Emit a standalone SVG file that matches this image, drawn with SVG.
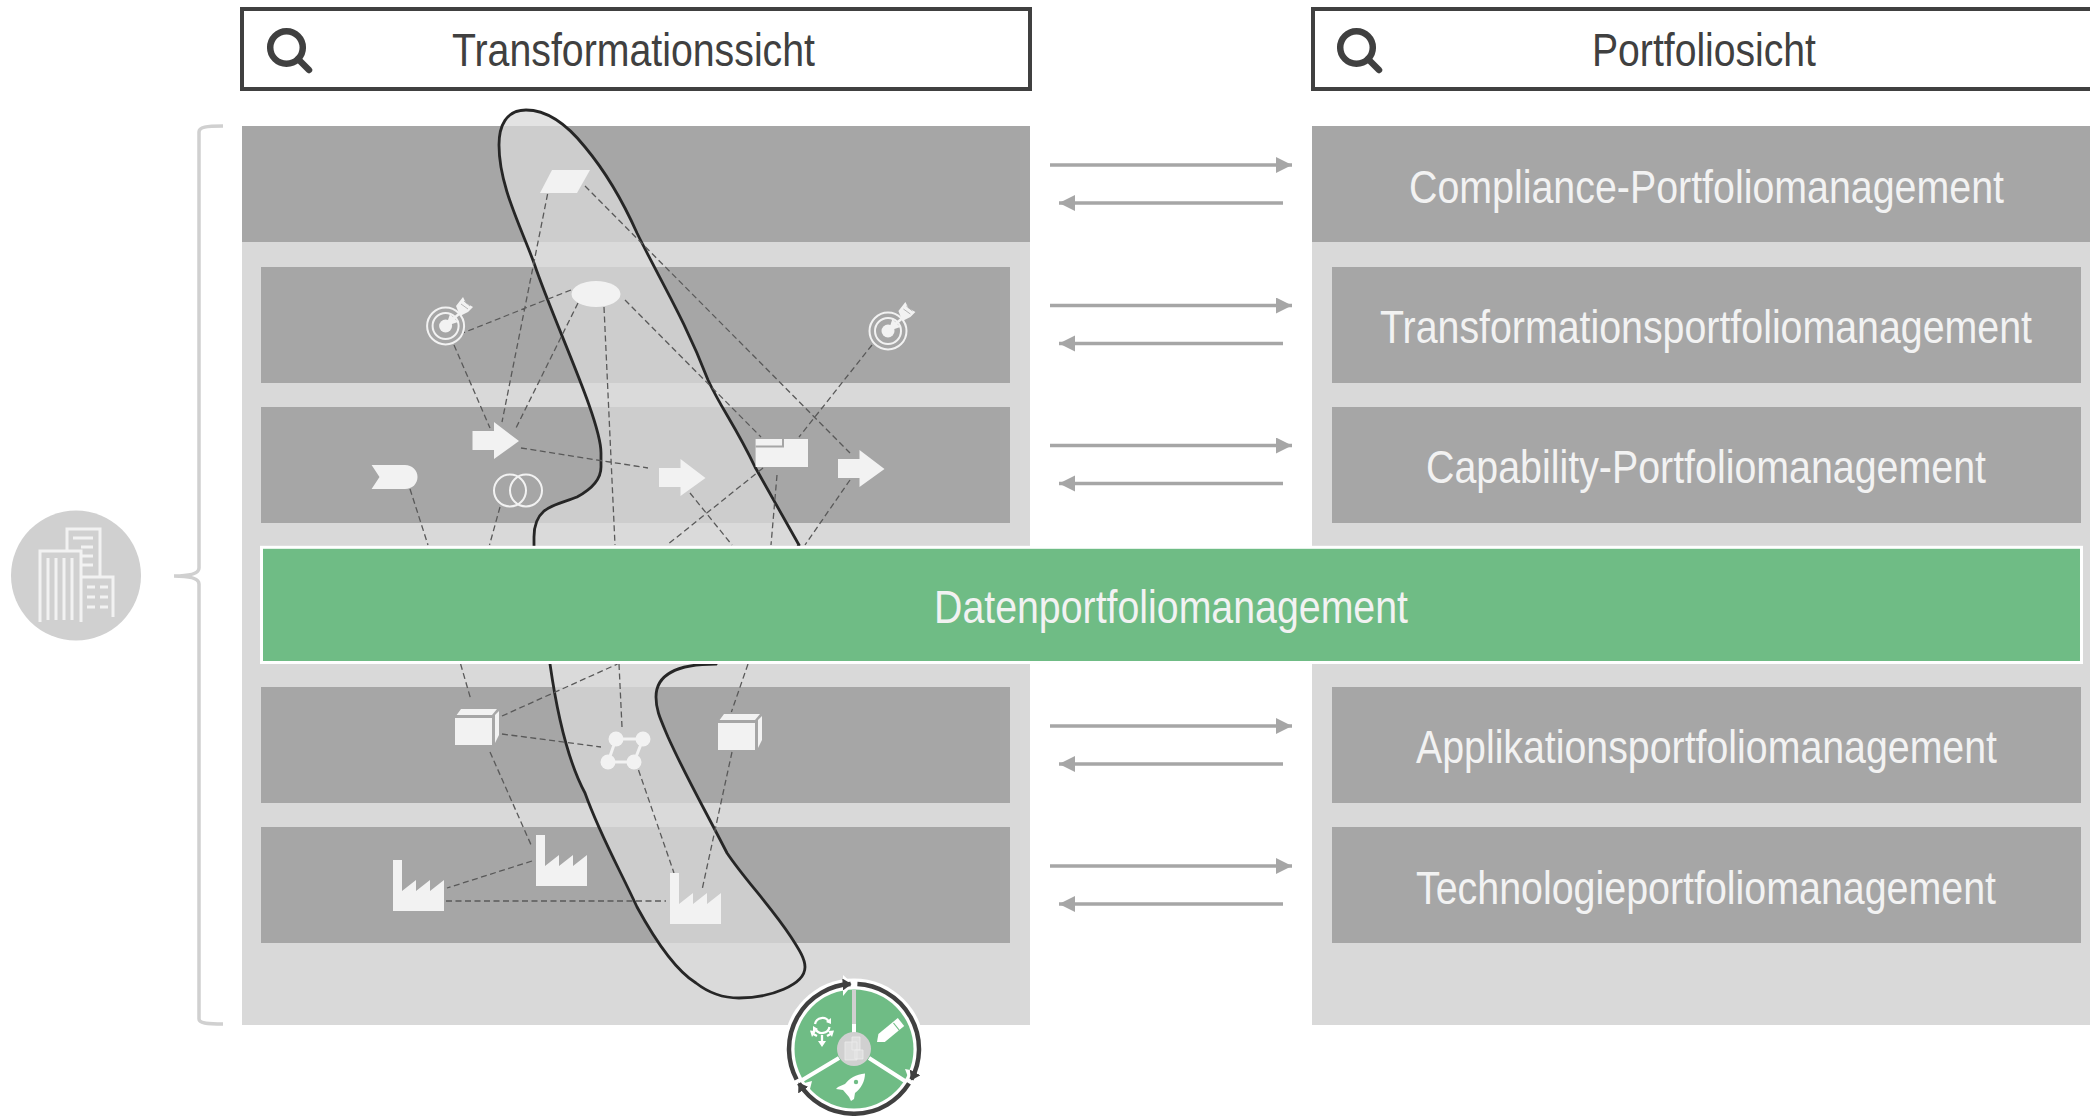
<svg xmlns="http://www.w3.org/2000/svg" xmlns:xlink="http://www.w3.org/1999/xlink" width="2090" height="1116" viewBox="0 0 2090 1116">
<style>
text{font-family:"Liberation Sans",Arial,sans-serif;font-size:47px;text-anchor:start;fill:#f2f2f2}
text.head{fill:#404040}
.panel{fill:#d9d9d9}
.band{fill:#a6a6a6}
.hbox{fill:#fff;stroke:#404040;stroke-width:4}
.ic{fill:#f2f2f2}
.dash{fill:none;stroke:#595959;stroke-width:1.3;stroke-dasharray:6 3.5}
.flow{fill:none;stroke:#a6a6a6;stroke-width:3.5}
.tgt{fill:none;stroke:#f2f2f2;stroke-width:2}
.bld{fill:none;stroke:#f2f2f2;stroke-width:3}
.arc{fill:none;stroke:#404040;stroke-width:4.5;marker-end:url(#dh)}
.wi{fill:#fff}
</style>
<defs>
<marker id="fh" markerUnits="userSpaceOnUse" markerWidth="17" markerHeight="17" refX="16" refY="8" orient="auto"><path d="M0 0L16 8L0 16Z" fill="#a6a6a6"/></marker>
<marker id="dh" markerUnits="userSpaceOnUse" markerWidth="12" markerHeight="12" refX="8" refY="6" orient="auto"><path d="M0 0L9 6L0 12Z" fill="#404040"/></marker>
<g id="search"><circle cx="286.500" cy="47.500" r="16.300" fill="none" stroke="#404040" stroke-width="6.500"/><path d="M298 59L309 70" stroke="#404040" stroke-width="6.500" stroke-linecap="round"/></g>
<g id="factory"><path class="ic" d="M393 860H402V891L416 880V891L430 880V891L444 880V911H393Z"/></g>
<g id="target"><circle class="tgt" cx="445.600" cy="326" r="18.500"/><circle class="tgt" cx="445.600" cy="326" r="13"/><circle class="ic" cx="445.600" cy="326" r="6.500"/><path d="M446 325L466 308" stroke="#f2f2f2" stroke-width="2.500"/><path d="M446 326L450 314L458 322Z" class="ic"/><path class="ic" d="M456 306L463 297L466 303L473 307L468 312L460 316Z"/><path d="M461 304L468 309M464 301L470 306" stroke="#a6a6a6" stroke-width=".8"/></g>
<g id="cube"><path class="ic" d="M455 718H492V745H455ZM456.600 715L461 709H497L492 715ZM495 715L499 711V735L495 743Z"/></g>
<g id="arrowI"><path class="ic" d="M472.500 431H494V422L519 441L494 459V450H472.500Z"/></g>
<g id="bldIcon"><path class="bld" d="M67 551V529H100V577M40 622V551H81V622M81 577H113V617M73 538H93M81 547H93M81 556H93M81 565H93M48 558V620M56 558V620M64 558V620M72 558V620M87 587H95M100 587H108M87 597H95M100 597H108M87 607H95M100 607H108"/></g>
</defs>

<g id="panel-transformation"><rect class="panel" x="242" y="126" width="788" height="899"/><rect class="band" x="242" y="126" width="788" height="116"/><rect class="band" x="261" y="267" width="749" height="116"/><rect class="band" x="261" y="407" width="749" height="116"/><rect class="band" x="261" y="687" width="749" height="116"/><rect class="band" x="261" y="827" width="749" height="116"/></g>

<g id="panel-portfolio"><rect class="panel" x="1312" y="126" width="778" height="899"/></g>

<g id="header-transformation"><rect class="hbox" x="242" y="9" width="788" height="80"/><use href="#search"/><text class="head" x="452" y="66" textLength="363" lengthAdjust="spacingAndGlyphs">Transformationssicht</text></g>
<g id="header-portfolio"><rect class="hbox" x="1313" y="9" width="800" height="80"/><use href="#search" x="1070"/><text class="head" x="1592" y="66" textLength="224" lengthAdjust="spacingAndGlyphs">Portfoliosicht</text></g>

<g id="node-compliance"><rect class="band" x="1312" y="126" width="778" height="116"/><text x="1409" y="203" textLength="595" lengthAdjust="spacingAndGlyphs">Compliance-Portfoliomanagement</text></g>
<g id="node-transformation"><rect class="band" x="1332" y="267" width="749" height="116"/><text x="1380" y="343" textLength="652" lengthAdjust="spacingAndGlyphs">Transformationsportfoliomanagement</text></g>
<g id="node-capability"><rect class="band" x="1332" y="407" width="749" height="116"/><text x="1426" y="483" textLength="560" lengthAdjust="spacingAndGlyphs">Capability-Portfoliomanagement</text></g>
<g id="node-application"><rect class="band" x="1332" y="687" width="749" height="116"/><text x="1416" y="763" textLength="581" lengthAdjust="spacingAndGlyphs">Applikationsportfoliomanagement</text></g>
<g id="node-technology"><rect class="band" x="1332" y="827" width="749" height="116"/><text x="1416" y="904" textLength="580" lengthAdjust="spacingAndGlyphs">Technologieportfoliomanagement</text></g>

<path id="scope" d="M526 110C506 110 499 126 499 145C499 185 520 225 534 263C555 325 601 420 601 453V467C601 480 590 490 577 497C558 505 534 505 534 537V600L550 664C558 720 570 765 585 793C600 835 620 870 637 907C655 940 675 970 696 983C710 994 725 998 739 998C770 998 805 985 805 967C805 958 798 948 791 937C770 905 745 880 727 853C705 810 685 775 668 737C660 718 656 710 656 697C656 680 668 664 716 664L799 545L755 467C735 425 722 410 708 380C685 320 660 280 637 233C620 195 600 165 585 147C565 122 545 110 526 110Z" fill="#d9d9d9" fill-opacity=".75" stroke="#262626" stroke-width="2.800"/>

<g id="connectors">
<path class="dash" d="M547.600 194L502 422M585 186L850 453M571 290L462.600 333M578 303L516 428M604 307L615 545M625 300L761 437M454 345L490 428M872 345L799 437M521 448L648 468M410 489L428 545M500 507L489.500 545M690 493L732 545M763 468L667 545M777 475L771 545M850 480L805 545M460.600 664L471 700M502 716L617.600 664M619 664L622 727M748 664L731.400 712M502 734L601 747M490 752L532 847M638.500 770L674 873M732 752L702 890M532 861L447 888M446 901L666 901"/>
<path class="flow" marker-end="url(#fh)" d="M1050 165H1292"/><path class="flow" marker-end="url(#fh)" d="M1283 203H1059"/>
<path class="flow" marker-end="url(#fh)" d="M1050 305.500H1292"/><path class="flow" marker-end="url(#fh)" d="M1283 343.500H1059"/>
<path class="flow" marker-end="url(#fh)" d="M1050 445.500H1292"/><path class="flow" marker-end="url(#fh)" d="M1283 483.500H1059"/>
<path class="flow" marker-end="url(#fh)" d="M1050 726H1292"/><path class="flow" marker-end="url(#fh)" d="M1283 764H1059"/>
<path class="flow" marker-end="url(#fh)" d="M1050 866H1292"/><path class="flow" marker-end="url(#fh)" d="M1283 904H1059"/>
</g>

<g id="icon-parallelogram"><path class="ic" d="M540 193L552 170H590L577 193Z"/></g>
<g id="icon-ellipse"><ellipse class="ic" cx="596" cy="294" rx="24.500" ry="13"/></g>
<g id="icon-target-1"><use href="#target"/></g>
<g id="icon-target-2"><use href="#target" x="442.400" y="5"/></g>
<g id="icon-arrow-1"><use href="#arrowI"/></g>
<g id="icon-arrow-2"><use href="#arrowI" x="186.500" y="37"/></g>
<g id="icon-arrow-3"><use href="#arrowI" x="365.500" y="28"/></g>
<g id="icon-folder"><path class="ic" d="M755.600 439H808V467H755.600Z"/><path d="M755.600 446.500H783V439" fill="none" stroke="#a6a6a6" stroke-width="2"/></g>
<g id="icon-chevron"><path class="ic" d="M371.600 465H405C412 465 417.500 470 417.500 477C417.500 484 412 489 405 489H371.600L379.500 477Z"/></g>
<g id="icon-rings"><circle class="tgt" stroke-width="2.500" cx="510" cy="490.500" r="16"/><circle class="tgt" stroke-width="2.500" cx="526" cy="490.500" r="16"/></g>
<g id="icon-cube-1"><use href="#cube"/></g>
<g id="icon-cube-2"><use href="#cube" x="263" y="5"/></g>
<g id="icon-network"><path d="M616 739H643L634 762H608Z" fill="none" stroke="#f2f2f2" stroke-width="3"/><circle class="ic" cx="616" cy="739" r="7.500"/><circle class="ic" cx="643" cy="739" r="7.500"/><circle class="ic" cx="608" cy="762" r="7.500"/><circle class="ic" cx="634" cy="762" r="7.500"/></g>
<g id="icon-factory-1"><use href="#factory"/></g>
<g id="icon-factory-2"><use href="#factory" x="143" y="-25"/></g>
<g id="icon-factory-3"><use href="#factory" x="277" y="13"/></g>

<g id="node-data"><rect x="261.500" y="547.300" width="1820" height="115.200" fill="#6fbc85" stroke="#fff" stroke-width="3"/><text x="934" y="623" textLength="474" lengthAdjust="spacingAndGlyphs">Datenportfoliomanagement</text></g>

<g id="brace"><path d="M223 126C206 126 199 127 199 132V568C199 573 192 576 174 576C192 576 199 579 199 584V1019C199 1023 206 1024 223 1024" fill="none" stroke="#d0d0d0" stroke-width="3.500"/></g>
<g id="enterprise"><circle cx="76" cy="575.500" r="65" fill="#d0d0d0"/><use href="#bldIcon"/></g>

<g id="cycle">
<circle cx="854" cy="1049" r="70.500" fill="#fff"/>
<circle cx="854" cy="1049" r="59.500" fill="#6fbc85"/>
<path d="M854 990V1036" stroke="#d0d0d0" stroke-width="4"/><path d="M854 1024V1036" stroke="#fff" stroke-width="4"/>
<path d="M869 1058L908 1083M839 1058L799 1082" stroke="#fff" stroke-width="4"/>
<path class="wi" d="M853 984L843 975L843 996Z"/><path class="wi" d="M911 1085L905 1069L920 1072Z"/><path class="wi" d="M797 1085L812 1081L809 1093Z"/>
<path class="arc" d="M857.400 984.100A65 65 0 0 1 911.400 1079.500"/>
<path class="arc" d="M909 1083.400A65 65 0 0 1 799 1083.400"/>
<path class="arc" d="M796.600 1079.500A65 65 0 0 1 850.600 984.100"/>
<circle cx="854" cy="1049" r="17" fill="#d0d0d0"/>
<path d="M852 1037H860V1050H852ZM845 1042H857V1060H845ZM855 1050H863V1059H855Z" fill="#dedede" stroke="#ececec" stroke-width=".8"/>
<path d="M815 1024A7.500 7.500 0 0 1 829 1022M829.500 1027A7.500 7.500 0 0 1 815.500 1029" fill="none" stroke="#fff" stroke-width="2.300"/>
<path d="M822 1035V1042M817 1036L812.500 1033.500M827 1036L831.500 1033.500" fill="none" stroke="#fff" stroke-width="2.300"/>
<path class="wi" d="M818 1041H826L822 1047ZM810 1030.500L816 1031L812 1037ZM834 1030.500L828 1031L832 1037ZM831 1018L831 1024L826 1022ZM813 1032L813 1026L818 1029Z"/>
<path class="wi" d="M877 1042L878.400 1034.100L897.800 1018.100L904.200 1025.900L884.800 1041.900Z"/>
<path d="M893.500 1023L899.500 1030.500" stroke="#6fbc85" stroke-width="1.200"/>
<path class="wi" d="M865 1073.500C856 1074 849 1079 845 1084L838 1087L836 1089L843 1090L849 1097L851 1101L854 1099L855 1093C861 1089 865 1081 865 1073.500Z"/>
<circle cx="856" cy="1082" r="2.200" fill="#6fbc85"/>
</g>
</svg>
